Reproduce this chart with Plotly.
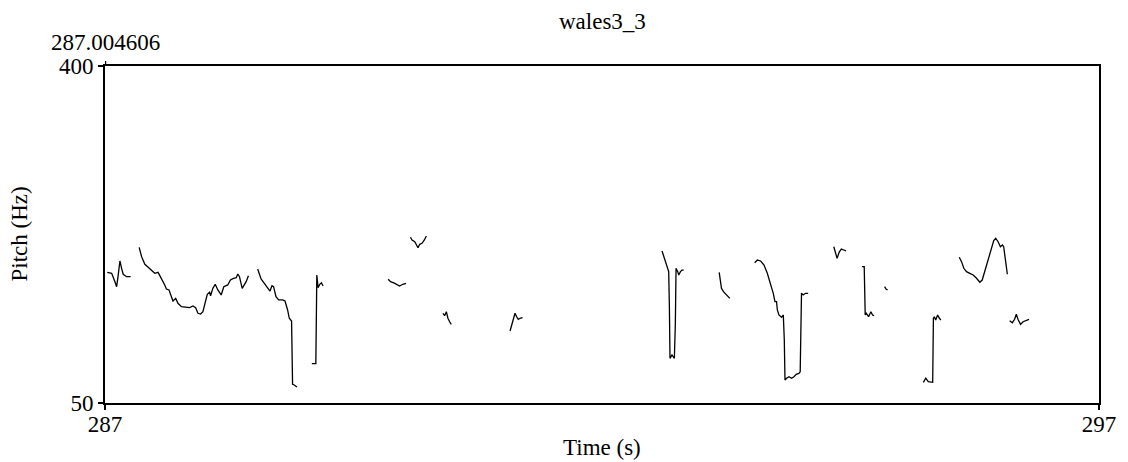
import plotly.graph_objects as go

# Pitch track (voiced frames); None marks unvoiced gaps between contours
time_s = [
    287.023, 287.067, 287.100, 287.117, 287.133, 287.150, 287.167, 287.183, 287.217, 287.258, None,
    287.344, 287.368, 287.401, 287.451, 287.501, 287.534, 287.568, 287.601, 287.618, 287.644,
    287.668, 287.684, 287.711, 287.734, 287.769, 287.819, 287.852, 287.885, 287.912, 287.935,
    287.962, 287.985, 288.012, 288.029, 288.052, 288.062, 288.085, 288.109, 288.135, 288.169,
    288.195, 288.235, 288.262, 288.293, 288.320, 288.336, 288.353, 288.380, 288.420, 288.443, None,
    288.536, 288.570, 288.603, 288.636, 288.660, 288.680, 288.696, 288.720, 288.747, 288.787,
    288.811, 288.837, 288.854, 288.877, 288.881, 288.887, 288.904, 288.931, None,
    289.081, 289.121, 289.131, 289.144, 289.161, 289.177, 289.194, None,
    289.849, 289.873, 289.916, 289.963, 289.996, 290.029, None,
    290.073, 290.089, 290.116, 290.133, 290.149, 290.166, 290.189, 290.213, 290.233, None,
    290.400, 290.417, 290.434, 290.450, 290.467, 290.484, None,
    291.075, 291.091, 291.108, 291.125, 291.141, 291.158, 291.175, 291.201, None,
    292.604, 292.628, 292.651, 292.671, 292.678, 292.684, 292.704, 292.728, 292.738, 292.745,
    292.762, 292.772, 292.789, 292.805, 292.822, None,
    293.179, 293.189, 293.202, 293.222, 293.253, 293.286, None,
    293.536, 293.563, 293.596, 293.630, 293.663, 293.696, 293.723, 293.740, 293.756, 293.764,
    293.780, 293.807, 293.824, 293.834, 293.841, 293.857, 293.881, 293.907, 293.931, 293.954,
    293.981, 293.994, 294.001, 294.007, 294.024, 294.047, 294.074, None,
    294.332, 294.348, 294.365, 294.388, 294.408, 294.432, 294.455, None,
    294.615, 294.638, 294.648, 294.658, 294.682, 294.705, 294.722, 294.738, None,
    294.843, 294.859, 294.873, None,
    295.233, 295.257, 295.283, 295.327, 295.334, 295.344, 295.357, 295.377, 295.394, 295.410, None,
    295.594, 295.617, 295.640, 295.667, 295.700, 295.734, 295.768, 295.801, 295.825, 295.851,
    295.885, 295.918, 295.941, 295.961, 295.985, 296.008, 296.028, 296.041, 296.061, 296.078, None,
    296.101, 296.128, 296.151, 296.168, 296.188, 296.211, 296.236, 296.269, 296.296,
]

pitch_hz = [
    185.7, 184.7, 176.0, 170.8, 182.9, 197.5, 189.9, 183.7, 181.2, 181.2, None,
    211.7, 202.0, 194.1, 189.9, 184.7, 185.7, 179.5, 172.6, 168.4, 167.4,
    160.4, 155.9, 158.7, 153.5, 150.0, 149.0, 149.0, 150.7, 149.0, 143.2,
    142.4, 144.8, 155.2, 162.9, 165.0, 161.4, 169.1, 173.3, 167.4, 162.2,
    170.8, 172.6, 177.7, 179.5, 180.1, 184.0, 181.2, 169.1, 176.0, 182.2, None,
    189.2, 178.8, 174.3, 169.1, 166.3, 171.8, 170.8, 160.4, 157.0, 157.0,
    155.9, 146.6, 138.0, 135.2, 99.9, 69.4, 68.7, 66.6, None,
    90.8, 90.8, 182.9, 169.8, 173.3, 174.9, 171.5, None,
    178.5, 176.0, 174.3, 171.5, 173.3, 174.3, None,
    222.1, 219.3, 217.5, 214.8, 211.3, 214.8, 215.9, 219.3, 223.4, None,
    143.2, 140.7, 144.8, 138.0, 134.4, 131.7, None,
    124.8, 131.0, 138.0, 143.2, 139.6, 136.9, 138.0, 138.6, None,
    207.9, 200.3, 191.6, 186.4, 150.0, 96.4, 99.9, 96.4, 132.8, 189.9,
    186.4, 182.9, 186.4, 188.1, 188.1, None,
    185.7, 177.7, 169.1, 165.6, 162.2, 158.7, None,
    195.7, 198.5, 197.5, 193.3, 184.7, 174.3, 163.9, 155.2, 155.2, 146.6,
    141.4, 139.0, 141.4, 115.4, 73.9, 75.7, 77.3, 75.7, 77.3, 79.8,
    80.8, 82.5, 115.4, 163.9, 162.2, 163.9, 163.9, None,
    212.3, 207.1, 200.3, 207.1, 209.9, 208.9, 207.9, None,
    191.6, 191.6, 141.4, 143.2, 139.6, 144.8, 141.4, 140.7, None,
    170.8, 168.1, 167.4, None,
    71.5, 75.7, 72.1, 71.5, 138.0, 139.6, 136.2, 141.4, 138.0, 136.2, None,
    201.3, 196.8, 189.9, 186.4, 184.7, 182.9, 179.5, 175.4, 177.7, 186.4,
    198.5, 210.7, 218.6, 221.1, 217.5, 212.3, 214.1, 212.3, 195.1, 183.7, None,
    135.5, 133.4, 136.9, 142.1, 136.2, 131.7, 134.4, 135.5, 136.9,
]

time_range = [287, 297]
pitch_range = [50, 400]
cursor_time = 287.004606
title_text = "wales3_3"

FONT = "Liberation Serif"
FS = 23

fig = go.Figure()
fig.add_trace(go.Scatter(
    x=time_s, y=pitch_hz, mode="lines",
    line=dict(color="black", width=1.3),
    connectgaps=False, hoverinfo="skip", showlegend=False,
))

axis_common = dict(
    showgrid=False, zeroline=False,
    showline=True, linecolor="black", linewidth=2, mirror=True,
    ticks="outside", ticklen=5, tickwidth=1.5, tickcolor="black",
    tickfont=dict(family=FONT, size=FS, color="black"),
)

fig.update_layout(
    width=1128, height=462,
    margin=dict(l=105, r=25, t=66, b=59),
    paper_bgcolor="white", plot_bgcolor="white",
    xaxis=dict(range=time_range, tickvals=time_range,
               ticktext=[str(v) for v in time_range], **axis_common),
    yaxis=dict(range=pitch_range, tickvals=pitch_range,
               ticktext=[str(v) for v in pitch_range], **axis_common),
    font=dict(family=FONT, size=FS, color="black"),
    annotations=[
        dict(text=title_text, xref="paper", yref="paper", x=0.5, y=1,
             yanchor="bottom", yshift=30, showarrow=False,
             font=dict(family=FONT, size=FS)),
        dict(text=f"{cursor_time:.6f}", xref="x", yref="paper", x=cursor_time, y=1,
             yanchor="bottom", yshift=10, borderpad=0, showarrow=False,
             font=dict(family=FONT, size=FS)),
        dict(text="Time (s)", xref="paper", yref="paper", x=0.5, y=0,
             yanchor="top", yshift=-30, showarrow=False,
             font=dict(family=FONT, size=FS)),
        dict(text="Pitch (Hz)", xref="paper", yref="paper", x=0, y=0.5,
             xanchor="center", xshift=-86, textangle=-90, showarrow=False,
             font=dict(family=FONT, size=FS)),
    ],
    shapes=[
        dict(type="line", xref="x", yref="paper", x0=cursor_time, x1=cursor_time,
             ysizemode="pixel", yanchor=1, y0=0, y1=5,
             line=dict(color="black", width=1.5)),
    ],
)

# pull the time tick labels up closer to the axis line
try:
    fig.update_xaxes(ticklabelstandoff=-6)
except ValueError:
    pass

fig.write_html("out.html")
